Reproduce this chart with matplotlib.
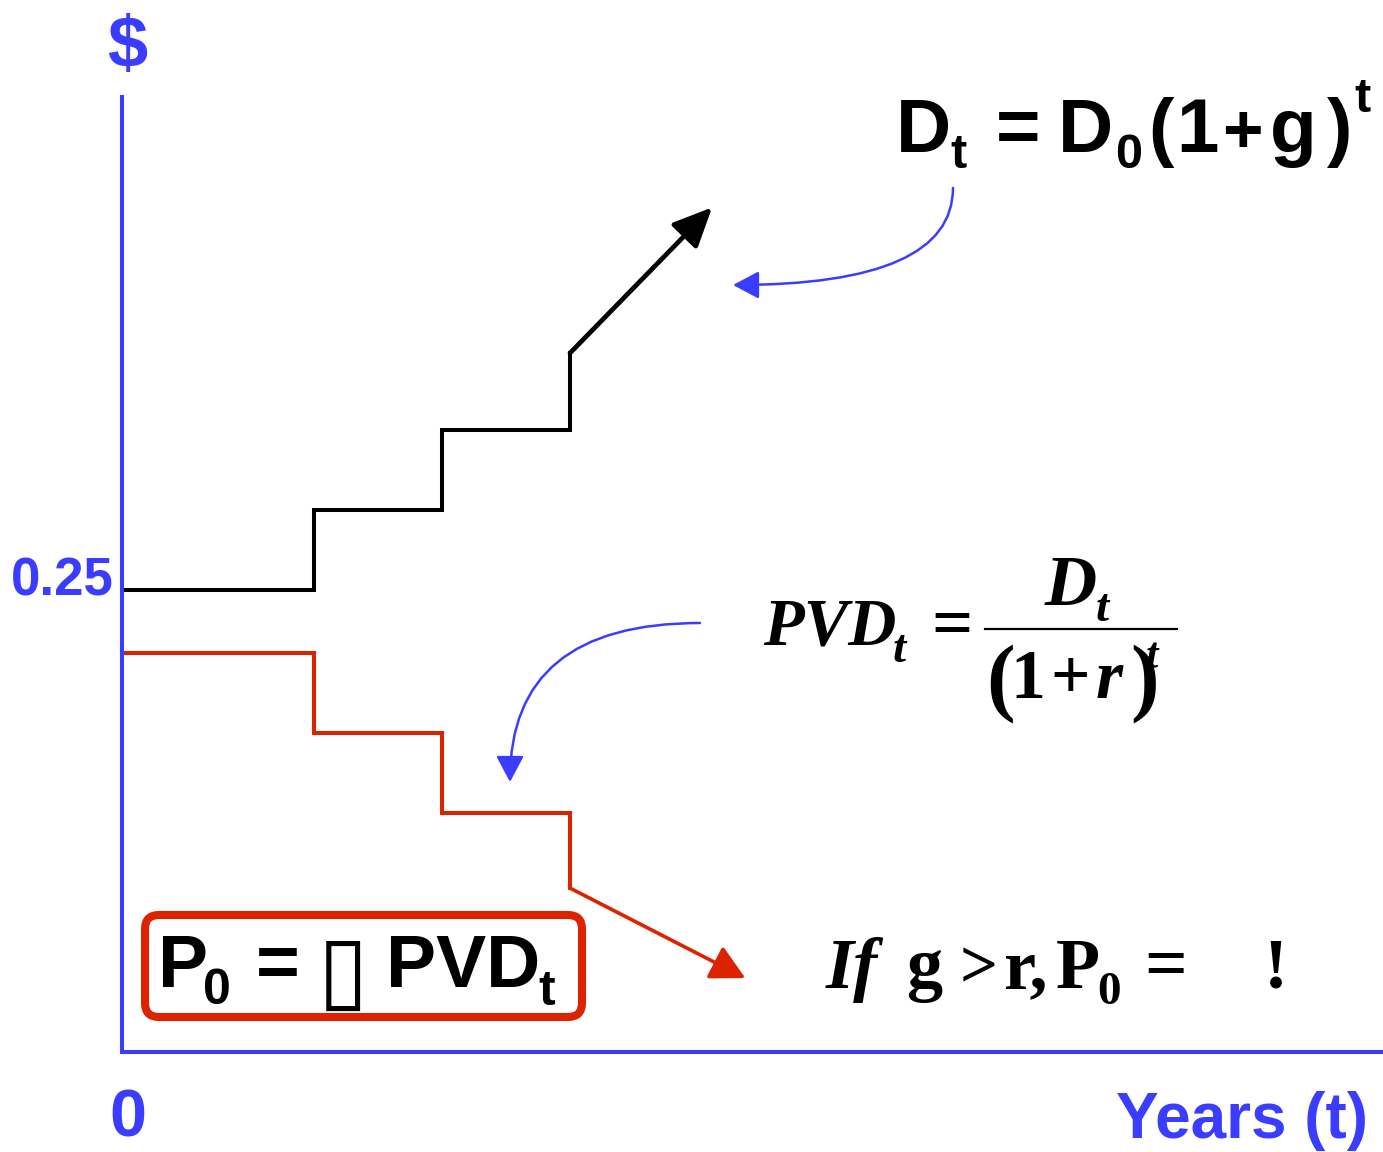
import matplotlib
matplotlib.use('Agg')
import matplotlib.pyplot as plt
from matplotlib.transforms import Affine2D, ScaledTranslation
from matplotlib.patches import FancyBboxPatch, FancyArrowPatch

# data (years, dollars)
step_years = [0, 1.5, 2.5, 3.5]
dividends = [0.25, 0.2933, 0.3366, 0.3782]      # D_t, growing
pv_dividends = [0.2159, 0.1726, 0.1293, 0.0887]  # PVD_t, shrinking
div_arrow_end = (4.61, 0.457)
pv_arrow_end = (4.87, 0.040)
y_ticks = [0.25]
y_ticklabels = ['0.25']
x_ticks = [0]
x_ticklabels = ['0']

BLUE = '#3a3cff'
RED = '#dd2200'
W, H = 1383, 1152

fig = plt.figure(figsize=(W / 100, H / 100), dpi=100)
ax = fig.add_axes([0, 0, 1, 1])
ax.set_xlim(-122 / 128, (W - 122) / 128)
ax.set_ylim(-100 / 1848, 1052 / 1848)

for s in ('top', 'right'):
    ax.spines[s].set_visible(False)
ax.spines['left'].set_position(('data', 0))
ax.spines['bottom'].set_position(('data', 0))
ax.spines['left'].set_bounds(0, 0.517)
ax.spines['bottom'].set_bounds(0, (W - 122) / 128)
for s in ('left', 'bottom'):
    ax.spines[s].set_color(BLUE)
    ax.spines[s].set_linewidth(2.9)

ax.set_yticks(y_ticks, y_ticklabels)
ax.set_xticks(x_ticks, x_ticklabels)
ax.tick_params(axis='y', length=0, pad=6, labelsize=38, labelcolor=BLUE)
ax.tick_params(axis='x', length=0, pad=26, labelsize=48, labelcolor=BLUE)
for lab in ax.get_yticklabels() + ax.get_xticklabels():
    lab.set_fontfamily('Liberation Sans')
    lab.set_fontweight('bold')
# nudge tick labels to where the reference has them
for lab in ax.get_yticklabels():
    lab.set_transform(lab.get_transform() + ScaledTranslation(0, 10 / 72, fig.dpi_scale_trans))
for lab in ax.get_xticklabels():
    lab.set_transform(lab.get_transform() + ScaledTranslation(4 / 72, 0, fig.dpi_scale_trans))
ax.patch.set_visible(False)

# step lines
ax.step(step_years, dividends, where='post', color='black', lw=2.9, solid_joinstyle='miter')
ax.step(step_years, pv_dividends, where='post', color=RED, lw=2.9, solid_joinstyle='miter')
ax.annotate('', xy=div_arrow_end, xytext=(step_years[-1], dividends[-1]),
            arrowprops=dict(arrowstyle='-|>,head_length=24,head_width=11', lw=3.4,
                            color='black', shrinkA=0, shrinkB=0, mutation_scale=1))
ax.annotate('', xy=pv_arrow_end, xytext=(step_years[-1], pv_dividends[-1]),
            arrowprops=dict(arrowstyle='-|>,head_length=21,head_width=11', lw=2.6,
                            color=RED, shrinkA=0, shrinkB=0, mutation_scale=1))

# pixel transform for annotations (origin top-left)
px = Affine2D().scale(1 / W, -1 / H).translate(0, 1) + fig.transFigure


def put(x, y, s, size, family='Liberation Sans', weight='bold', style='normal',
        color='black', ha='left'):
    ax.text(x, y, s, transform=px, fontsize=size, family=family, weight=weight,
            style=style, color=color, ha=ha, va='baseline')


# axis titles
put(127, 67, '$', 52, color=BLUE, ha='center')
put(1368, 1138, 'Years (t)', 46, color=BLUE, ha='right')

# D_t = D_0 (1 + g)^t
put(896, 152, 'D', 55)
put(950, 168, 't', 35)
put(996, 152, '=', 55)
put(1058, 152, 'D', 55)
put(1115, 168, '0', 35)
put(1148, 152, '(', 55)
put(1176, 152, '1', 55)
put(1222, 152, '+', 50)
put(1270, 152, 'g', 55)
put(1327, 152, ')', 55)
put(1354, 112, 't', 35)

# PVD_t = D_t / (1 + r)^t
SERIF = 'Liberation Serif'
put(763, 644, 'PVD', 48, family=SERIF, style='italic')
put(893, 662, 't', 34, family=SERIF, style='italic')
put(931, 646, '=', 52, family=SERIF)
ax.plot([985, 1177], [629, 629], transform=px, color='black', lw=1.6)
put(1045, 605, 'D', 52, family=SERIF, style='italic')
put(1096, 621, 't', 34, family=SERIF, style='italic')
put(986, 704, '(', 62, family=SERIF)
put(1010, 698, '1', 50, family=SERIF)
put(1050, 698, '+', 50, family=SERIF)
put(1096, 698, 'r', 50, family=SERIF, style='italic')
put(1130, 704, ')', 62, family=SERIF)
put(1146, 668, 't', 32, family=SERIF, style='italic')

# If g > r, P_0 = !
put(826, 988, 'If', 52, family=SERIF, style='italic')
put(906, 988, 'g', 52, family=SERIF)
put(960, 988, '>', 48, family=SERIF)
put(1004, 988, 'r,', 52, family=SERIF)
put(1056, 988, 'P', 52, family=SERIF)
put(1097, 1004, '0', 34, family=SERIF)
put(1144, 988, '=', 54, family=SERIF)
put(1264, 988, '!', 52, family=SERIF)

# boxed P_0 = [] PVD_t
box = FancyBboxPatch((145, 915), 437, 102, transform=px,
                     boxstyle='round,pad=0,rounding_size=14',
                     fc='white', ec=RED, lw=5.8)
ax.add_patch(box)
put(158, 987, 'P', 54)
put(203, 1004, '0', 36)
put(256, 987, '=', 54)
put(318, 1000, '\u25af', 66, family='DejaVu Sans', weight='normal')
put(386, 987, 'PVD', 54)
put(538, 1005, 't', 36)

# curved blue pointers
for a, b, cs in [((953, 188), (733, 285), 'angle3,angleA=90,angleB=0'),
                 ((700, 623), (510, 782), 'angle3,angleA=0,angleB=90')]:
    ax.add_patch(FancyArrowPatch(a, b, transform=px, connectionstyle=cs,
                                 arrowstyle='-|>,head_length=16,head_width=8.5',
                                 mutation_scale=1, color=BLUE, lw=1.8,
                                 shrinkA=0, shrinkB=0))

fig.savefig('out.png', dpi=100)
